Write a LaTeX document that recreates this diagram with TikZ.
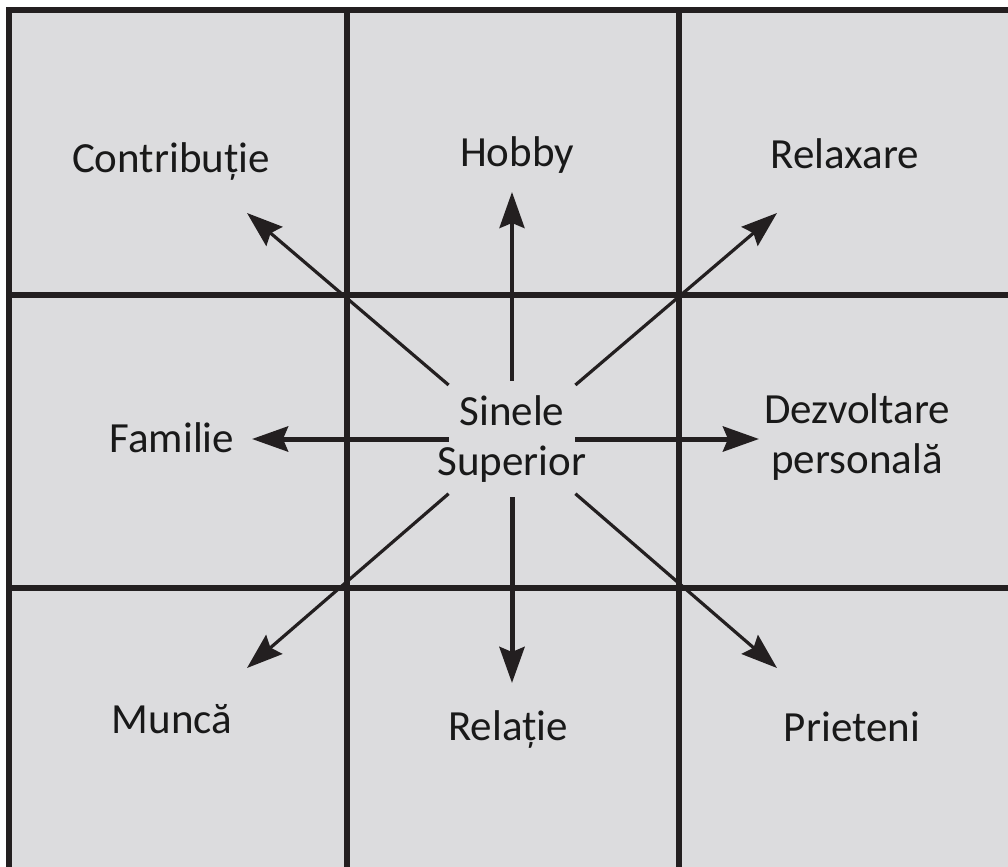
\documentclass[tikz,border=0pt]{standalone}
\usepackage{fontspec}
\setmainfont{Carlito}
\usepackage{tikz}
\usetikzlibrary{arrows.meta,positioning}
\definecolor{cellgray}{RGB}{220,220,222}
\definecolor{inkline}{RGB}{35,31,32}
\tikzset{
  gridline/.style={inkline, line width=2.6pt},
  ray/.style={inkline, line width=1.6pt,
    -{Stealth[length=18pt, width=12.5pt, inset=2.5pt]}},
  bigray/.style={ray, line width=2.5pt},
  word/.style={font=\fontsize{21.5}{25}\selectfont, text=black!90,
    inner sep=0pt, anchor=base},
}

\begin{document}
\begin{tikzpicture}[x=0.5pt, y=-0.5pt]
  \useasboundingbox (0,0) rectangle (1008,867);
  \clip (0,0) rectangle (1008,867);
  % --- 3x3 grid of cells ---
  \fill[cellgray] (9,10) rectangle (1020,880);
  \draw[gridline] (9,880) -- (9,10) -- (1020,10);
  \foreach \x in {347,679}{
    \draw[gridline] (\x,10) -- (\x,880);
  }
  \foreach \y in {295,588}{
    \draw[gridline] (9,\y) -- (1020,\y);
  }
  % centre (text kept out of the node's width)
  \node[word, anchor=center, align=center, minimum width=63pt,
        minimum height=58pt] (self) at (512,439)
        {\makebox[0pt]{Sinele}\\\makebox[0pt]{Superior}};
  % eight labels round the centre
  \node[word] (contrib) at (171,172) {Contribuție};
  \node[word] (hobby)   at (517,166) {Hobby};
  \node[word] (relax)   at (845,168) {Relaxare};
  \node[word] (family)  at (172,452) {Familie};
  \node[word, anchor=center, align=center] (growth) at (857,437)
        {Dezvoltare\\personală};
  \node[word] (work)    at (172,733) {Muncă};
  \node[word] (bond)    at (508,740) {Relație};
  \node[word] (friends) at (852,741) {Prieteni};
  % arrow tips
  \coordinate (tnw) at (247,213);
  \coordinate (tn)  at (512,192);
  \coordinate (tne) at (777,213);
  \coordinate (tw)  at (252,439);
  \coordinate (te)  at (759,439);
  \coordinate (tsw) at (247,668);
  \coordinate (ts)  at (512,683);
  \coordinate (tse) at (777,668);
  % arrows out of the centre
  \draw[ray] (self) -- (tnw);
  \draw[ray, line width=2pt] (self) -- (tn);
  \draw[ray] (self) -- (tne);
  \draw[bigray] (self) -- (tw);
  \draw[bigray] (self) -- (te);
  \draw[ray] (self) -- (tsw);
  \draw[bigray] (self) -- (ts);
  \draw[ray] (self) -- (tse);
\end{tikzpicture}
\end{document}
